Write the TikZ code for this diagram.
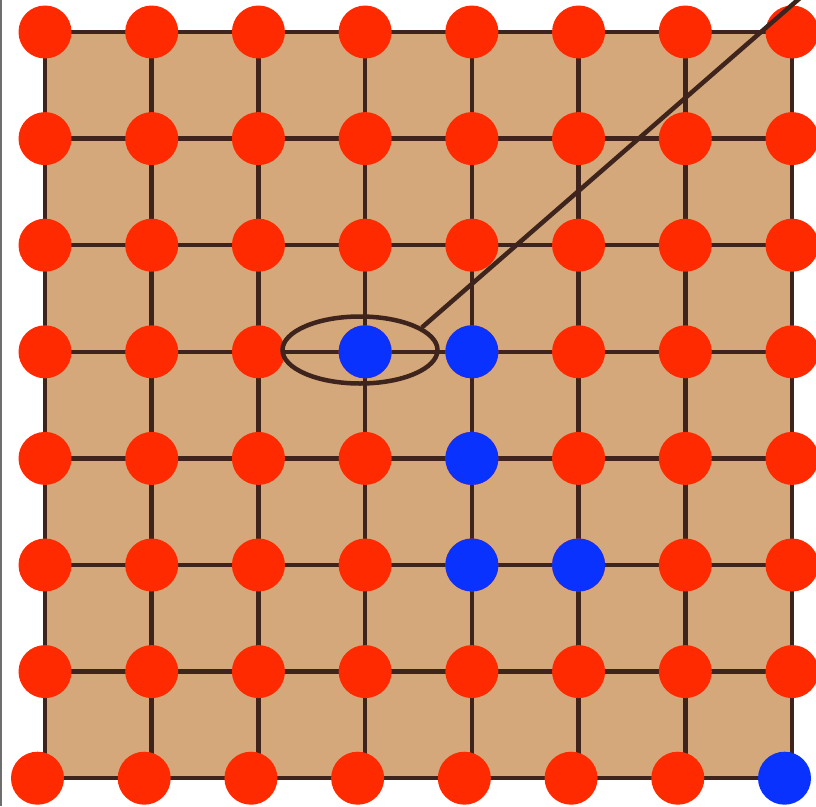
\documentclass[tikz,border=0pt]{standalone}
\usetikzlibrary{shapes.geometric,calc}
\definecolor{tan}{RGB}{212,168,122}
\definecolor{ink}{RGB}{62,36,28}
\definecolor{dotred}{RGB}{255,42,0}
\definecolor{dotblue}{RGB}{10,50,255}
\definecolor{edge}{RGB}{110,110,110}
\tikzset{
  gridline/.style={draw=ink,line width=4.5pt},
  reddot/.style={circle,fill=dotred,minimum size=53pt,inner sep=0pt},
  bluedot/.style={circle,fill=dotblue,minimum size=53pt,inner sep=0pt},
  ring/.style={ellipse,draw=ink,line width=4.5pt,minimum width=155pt,minimum height=67pt,inner sep=0pt},
  pointer/.style={draw=ink,line width=4.5pt},
}
\begin{document}
\begin{tikzpicture}[x=1pt,y=-1pt]
\useasboundingbox (0,0) rectangle (816,806);
\fill[white] (0,0) rectangle (816,806);
\draw[edge,line width=1.5pt] (1,0) -- (1,806);
% grid points
\foreach \i in {0,...,7}{
  \foreach \j in {0,...,7}{
    \coordinate (g-\i-\j) at ({45+106.714*\i},{32+106.6*\j});
  }
}
\fill[tan] (g-0-0) rectangle (g-7-7);
\foreach \k in {0,...,7}{
  \draw[gridline] (g-0-\k) -- (g-7-\k);
  \draw[gridline] (g-\k-0) -- (g-\k-7);
}
% dots rows 0..6
\foreach \i in {0,...,7}{
  \foreach \j in {0,...,6}{
    \node[reddot] (d-\i-\j) at (g-\i-\j) {};
  }
}
% bottom row shifted left
\foreach \i in {0,...,6}{
  \node[reddot] (d-\i-7) at ($(g-\i-7)+(-7.5,0)$) {};
}
\node[bluedot] (d-7-7) at ($(g-7-7)+(-7.5,0)$) {};
% blue dots
\node[bluedot] (b1) at (g-3-3) {};
\node[bluedot] (b2) at (g-4-3) {};
\node[bluedot] (b3) at (g-4-4) {};
\node[bluedot] (b4) at (g-4-5) {};
\node[bluedot] (b5) at (g-5-5) {};
% ellipse and pointer
\node[ring] (ell) at (360,350) {};
\coordinate (tip) at (800,-2);
\draw[pointer] (ell.20) -- (tip);
\end{tikzpicture}
\end{document}
